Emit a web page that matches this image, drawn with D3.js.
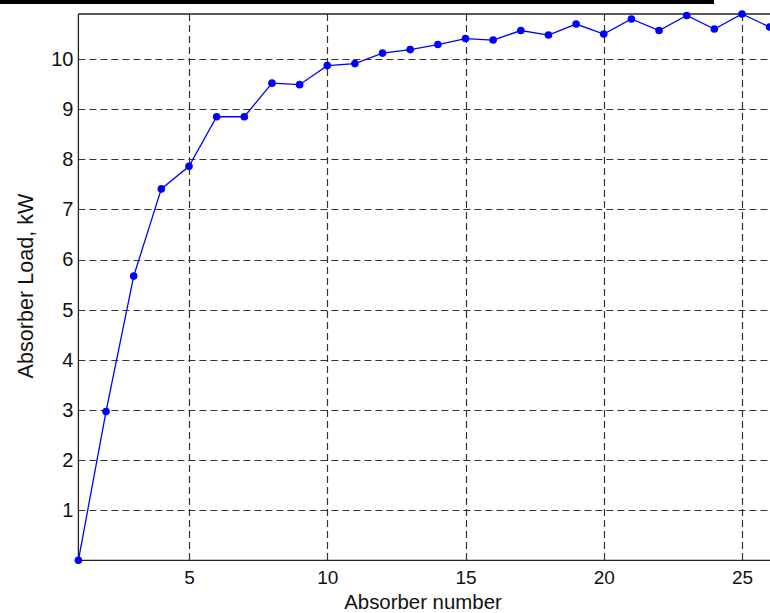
<!DOCTYPE html>
<html>
<head>
<meta charset="utf-8">
<script src="https://cdn.jsdelivr.net/npm/d3@7"></script>
<style>
  body { margin: 0; background: #fff; }
  svg { display: block; font-family: "Liberation Sans", Arial, sans-serif; }
</style>
</head>
<body>
<div id="chart"></div>
<script>
// Data
let absorbers = [1, 2, 3, 4, 5, 6, 7, 8, 9, 10, 11, 12, 13, 14, 15, 16, 17, 18, 19, 20, 21, 22, 23, 24, 25, 26];
let loads = [0, 2.97, 5.67, 7.41, 7.86, 8.85, 8.85, 9.52, 9.49, 9.87, 9.91, 10.12, 10.19, 10.29, 10.41, 10.38,
    10.57, 10.48, 10.70, 10.50, 10.80, 10.57, 10.87, 10.60, 10.90, 10.64];
let xTicks = [5, 10, 15, 20, 25];
let yTicks = [1, 2, 3, 4, 5, 6, 7, 8, 9, 10];

let width = 770;
let height = 613;
let plotLeft = 78.4, plotTop = 14, plotBottom = 560.3;

let svg = d3.select("#chart")
    .append("svg")
    .attr("width", width)
    .attr("height", height);

let x = d3.scaleLinear().domain([1, 26]).range([plotLeft, plotLeft + 25 * 27.65]);
let y = d3.scaleLinear().domain([0, 10.9]).range([plotBottom, plotTop]);

// thick bar at very top
svg.append("rect")
    .attr("x", 0).attr("y", 0)
    .attr("width", 714).attr("height", 4)
    .attr("fill", "#000");

// grid
let grid = svg.append("g")
    .attr("stroke", "#333")
    .attr("stroke-width", 1.2)
    .attr("stroke-dasharray", "7,4");

grid.selectAll("line.gy")
    .data(yTicks)
    .join("line")
    .attr("class", "gy")
    .attr("x1", plotLeft).attr("x2", width)
    .attr("y1", d => Math.round(y(d)) + 0.5)
    .attr("y2", d => Math.round(y(d)) + 0.5);

grid.selectAll("line.gx")
    .data(xTicks)
    .join("line")
    .attr("class", "gx")
    .attr("y1", plotTop).attr("y2", plotBottom)
    .attr("x1", d => Math.round(x(d)) + 0.5)
    .attr("x2", d => Math.round(x(d)) + 0.5);

// axes
let xAxis = svg.append("g")
    .attr("transform", `translate(0,${plotBottom})`)
    .call(d3.axisBottom(x).tickValues(xTicks).tickSize(0).tickPadding(0));
xAxis.select(".domain").remove();
xAxis.selectAll("text")
    .attr("dy", null)
    .attr("y", 23.7)
    .style("font-size", "19px")
    .attr("fill", "#111");

let yAxis = svg.append("g")
    .attr("transform", `translate(${plotLeft},0)`)
    .call(d3.axisLeft(y).tickValues(yTicks).tickSize(0).tickPadding(5));
yAxis.select(".domain").remove();
yAxis.selectAll("text").style("font-size", "20px").attr("fill", "#111");

// frame lines
svg.append("line")
    .attr("x1", plotLeft).attr("x2", width)
    .attr("y1", plotBottom).attr("y2", plotBottom)
    .attr("stroke", "#222").attr("stroke-width", 1.3);
svg.append("line")
    .attr("x1", plotLeft).attr("x2", width)
    .attr("y1", plotTop).attr("y2", plotTop)
    .attr("stroke", "#222").attr("stroke-width", 1.3);
svg.append("line")
    .attr("x1", plotLeft).attr("x2", plotLeft)
    .attr("y1", plotTop).attr("y2", plotBottom)
    .attr("stroke", "#222").attr("stroke-width", 1.3);

// series
let pts = absorbers.map((a, i) => [a, loads[i]]);
svg.append("path")
    .datum(pts)
    .attr("fill", "none")
    .attr("stroke", "#0000ff")
    .attr("stroke-width", 1.3)
    .attr("d", d3.line().x(d => x(d[0])).y(d => y(d[1])));

svg.selectAll("circle.pt")
    .data(pts)
    .join("circle")
    .attr("class", "pt")
    .attr("cx", d => x(d[0]))
    .attr("cy", d => y(d[1]))
    .attr("r", 3.8)
    .attr("fill", "#0000ff");

// axis titles
svg.append("text")
    .attr("x", 423).attr("y", 609)
    .attr("text-anchor", "middle")
    .style("font-size", "20.4px")
    .attr("fill", "#111")
    .text("Absorber number");

svg.append("text")
    .attr("transform", `translate(33,286) rotate(-90)`)
    .attr("text-anchor", "middle")
    .style("font-size", "21.6px")
    .attr("fill", "#111")
    .text("Absorber Load, kW");
</script>
</body>
</html>
